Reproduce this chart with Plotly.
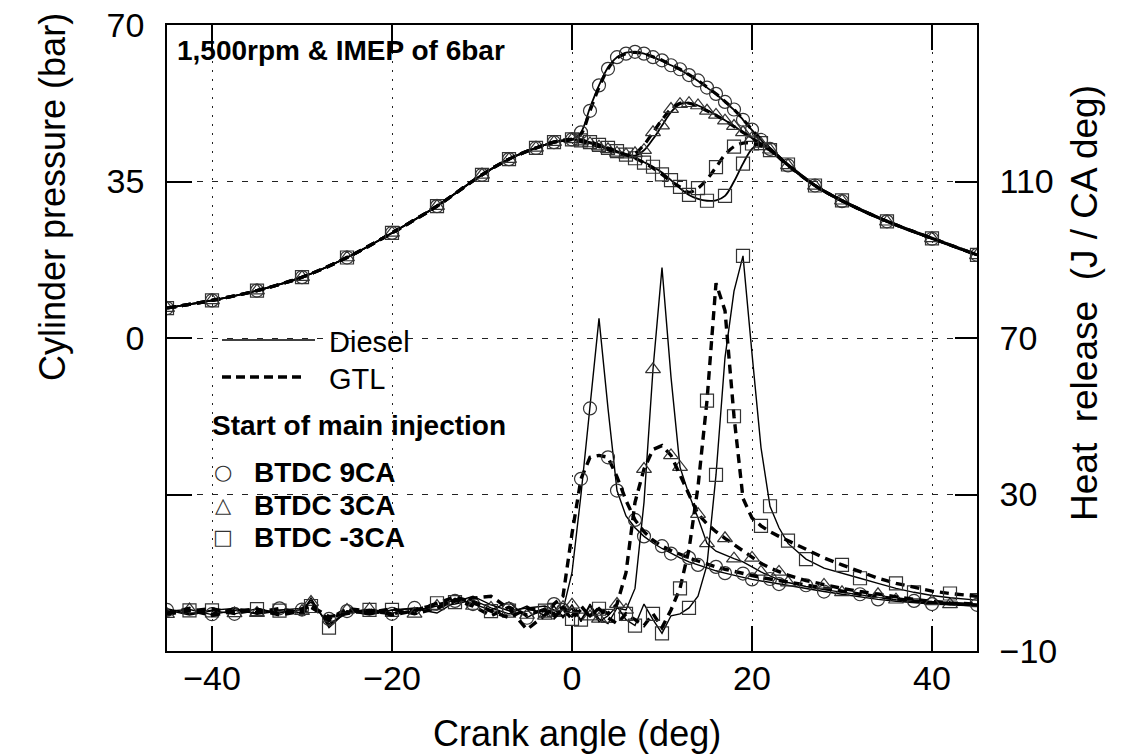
import plotly.graph_objects as go

# ---------------- data ----------------
# Cylinder pressure (bar), left axis
x_comp = [-45, -40, -35, -30, -25, -20, -15, -10, -7, -4, -2, 0]
p_comp = [6.7, 8.4, 10.6, 13.6, 18.0, 23.5, 29.5, 36.5, 40.0, 42.5, 43.8, 44.4]

x_exp = [1, 2, 3, 4, 5, 6, 7, 8, 9, 10, 11, 12, 13, 14, 15, 16, 17, 18, 19, 20, 21, 22,
         24, 27, 30, 35, 40, 45]
p_9ca_diesel = [46.0, 51.5, 56.5, 60.5, 62.8, 63.8, 64.0, 63.6, 62.8, 62.0, 61.0, 60.0, 58.8, 57.5,
                56.0, 54.5, 52.8, 51.0, 48.8, 46.5, 44.3, 42.2, 38.6, 34.0, 30.6, 26.0, 22.2, 18.5]
p_9ca_gtl = [45.6, 50.8, 56.0, 60.2, 62.6, 63.6, 63.9, 63.6, 62.9, 62.1, 61.1, 60.1, 58.9, 57.6,
             56.1, 54.6, 52.9, 51.1, 48.9, 46.6, 44.4, 42.3, 38.7, 34.1, 30.7, 26.1, 22.3, 18.6]
p_3ca_diesel = [43.9, 43.5, 42.9, 42.2, 41.5, 41.0, 40.8, 42.0, 44.5, 47.5, 50.5, 52.3, 52.6, 52.0,
                51.0, 49.9, 48.7, 47.4, 46.0, 44.7, 43.4, 42.1, 38.6, 34.0, 30.6, 26.0, 22.2, 18.5]
p_3ca_gtl = [43.9, 43.4, 42.8, 42.1, 41.4, 40.9, 41.3, 43.2, 46.0, 48.8, 51.2, 52.5, 52.5, 51.8,
             50.8, 49.8, 48.6, 47.3, 46.0, 44.7, 43.4, 42.1, 38.6, 34.1, 30.7, 26.1, 22.3, 18.6]
p_m3ca_diesel = [44.2, 43.8, 43.2, 42.5, 41.8, 41.0, 40.2, 39.3, 38.3, 37.0, 35.3, 33.5, 32.0, 31.1,
                 30.7, 30.8, 31.8, 35.0, 39.0, 42.3, 43.6, 42.5, 38.8, 34.2, 30.8, 26.2, 22.3, 18.6]
p_m3ca_gtl = [44.2, 43.8, 43.2, 42.5, 41.8, 41.0, 40.2, 39.2, 38.0, 36.6, 35.0, 33.8, 32.6, 33.5,
              35.5, 38.2, 41.0, 42.8, 43.6, 43.5, 43.0, 42.0, 38.7, 34.1, 30.7, 26.1, 22.3, 18.6]

# Heat release (J / CA deg), right axis
x_hr = [-45, -42.5, -40, -37.5, -35, -32.5, -30, -29, -27, -25,
        -22.5, -20, -17.5, -15, -13, -11, -9, -7, -5, -3,
        -2, -1, 0, 1, 2, 3, 4, 5, 6, 7,
        8, 9, 10, 11, 12, 13, 14, 15, 16, 17,
        18, 19, 20, 21, 22, 23, 24, 26, 28, 30,
        32, 34, 36, 38, 40, 42, 45]
hr_9ca_diesel = [0.5, -0.8, 0.3, -0.5, 0.8, -0.3, 0.6, 3.0, -3.5, 0.2,
                 -0.6, 0.4, 1.0, 0.5, 3.5, 2.0, 0.5, 2.5, -1.5, 1.0,
                 -1.2, 0.5, 10, 30, 52, 75, 52, 31, 24.5, 21.5,
                 19.3, 17.6, 16.2, 14.9, 13.8, 12.8, 12.0, 11.2, 10.5, 9.9,
                 9.3, 8.8, 8.3, 7.9, 7.5, 7.1, 6.7, 6.0, 5.2, 4.5,
                 3.8, 3.2, 2.7, 2.3, 2.0, 1.8, 1.5]
hr_9ca_gtl = [-0.4, 0.9, -0.6, 0.7, -0.2, 0.9, -0.5, 1.2, -1.8, 0.8,
              0.3, -0.5, 0.6, 1.8, 2.8, 3.5, 4.0, 0.8, -4.5, -0.8,
              2.0, 4.0, 20, 34, 39.5, 40, 39.5, 34.5, 28.5, 23.5,
              20.5, 18.3, 16.8, 15.7, 14.7, 13.8, 13.0, 12.2, 11.5, 10.9,
              10.3, 9.8, 9.3, 8.8, 8.4, 8.0, 7.6, 6.8, 6.0, 5.2,
              4.5, 3.9, 3.3, 2.8, 2.4, 2.1, 1.8]
hr_3ca_diesel = [0.2, 0.6, -0.7, 0.4, -0.3, 0.5, 0.9, 2.5, -3.0, -0.4,
                 0.7, -0.3, 0.2, 1.5, 2.0, 3.0, 1.0, -0.5, 1.5, -1.0,
                 1.5, -1.5, 1.8, -2.5, 2.0, -1.8, -3.0, 1.0, 0.5, 6,
                 28, 62, 88, 60, 37, 30, 24, 17.5, 15.5, 14.5,
                 13.6, 12.8, 11.5, 10.2, 9.2, 8.2, 7.5, 6.5, 5.7, 5.0,
                 4.3, 3.7, 3.1, 2.6, 2.2, 1.9, 1.5]
hr_3ca_gtl = [-0.6, 0.3, 0.8, -0.4, 0.6, -0.8, 0.2, 1.8, -2.2, 0.5,
              -0.2, 0.8, -0.5, 0.9, 3.0, 1.5, -1.0, 1.2, -0.8, 0.6,
              -0.5, 1.2, -1.0, 1.5, -1.2, 1.0, -0.5, 2, 10, 28,
              36.5, 41.5, 42.5, 40, 35, 30, 25, 22.5, 20.5, 18.8,
              17.2, 15.5, 13.8, 12.4, 11.2, 10.2, 9.4, 8.0, 6.9, 6.0,
              5.2, 4.5, 3.8, 3.2, 2.7, 2.3, 2.0]
hr_m3ca_diesel = [0.8, -0.5, 0.4, 0.9, -0.6, 0.3, -0.2, 3.5, -4.0, 0.3,
                  -0.8, 0.5, 0.8, -0.3, 2.5, 4.0, 1.8, 0.3, 1.0, 1.5,
                  0.5, -1.0, 0.8, -2.0, 1.5, -2.5, -1.0, 1.5, -2.0, -3.5,
                  2.0, -2.0, -5.5, -1.0, -0.5, 1.0, 4, 12, 35, 65,
                  82, 91, 66, 42, 27, 21.5, 17.5, 13.5, 11.2, 9.8,
                  8.6, 7.3, 6.0, 5.0, 4.2, 3.6, 3.0]
hr_m3ca_gtl = [-0.3, 0.4, -0.9, 0.2, 0.7, -0.6, 0.8, 1.5, -1.2, -0.5,
               0.5, -0.8, 0.3, 2.2, 3.8, 2.5, 0.2, -1.5, 0.8, 0.3,
               -1.5, 0.8, -1.8, 0.6, -1.0, 0.8, -1.5, -3.0, -0.5, -2.0,
               -3.5, -0.5, -4.0, 0.5, 6, 16, 32, 54, 84, 77,
               50, 29, 24, 22, 20.5, 19.3, 18.2, 16.2, 13.8, 12.0,
               10.2, 8.6, 7.3, 6.2, 5.3, 4.7, 4.0]

x_ticks = [-40, -20, 0, 20, 40]
yl_ticks = [-35, 0, 35, 70]
yl_text = ["", "0", "35", "70"]
yr_ticks = [-10, 30, 70, 110]

FONT = "Liberation Sans, Arial, sans-serif"
INK = "black"
MK = "#333333"

# the page's body margin is removed in post_script, so figure == window
W, H = 1129, 755
# plot-area geometry in window pixels
L, R, T, B = 167, 977, 25, 651

fig = go.Figure()


def add_series(x, y, axis, dash, width, symbol, offset, step, shape):
    fig.add_trace(go.Scatter(
        x=x, y=y, yaxis=axis, mode="lines", showlegend=False, hoverinfo="skip",
        line=dict(color=INK, width=width, dash=dash, shape=shape)))
    xs = [x[i] for i in range(len(x)) if i % step == offset]
    ys = [y[i] for i in range(len(y)) if i % step == offset]
    fig.add_trace(go.Scatter(
        x=xs, y=ys, yaxis=axis, mode="markers", showlegend=False, hoverinfo="skip",
        marker=dict(symbol=symbol, size=13, color=MK, line=dict(color=MK, width=1.2))))


SOLID = "solid"
DASH = "9px,6px"

x_p = x_comp + x_exp
pressure = [
    (p_comp + p_9ca_diesel, SOLID, 1.8, "circle-open", 0),
    (p_comp + p_3ca_diesel, SOLID, 1.8, "triangle-up-open", 1),
    (p_comp + p_m3ca_diesel, SOLID, 1.8, "square-open", 0),
    (p_comp + p_9ca_gtl, DASH, 3.2, "circle-open", 1),
    (p_comp + p_3ca_gtl, DASH, 3.2, "triangle-up-open", 0),
    (p_comp + p_m3ca_gtl, DASH, 3.2, "square-open", 1),
]
for y, dash, w, sym, off in pressure:
    add_series(x_p, y, "y", dash, w, sym, off, 2, "spline")

heat = [
    (hr_9ca_diesel, SOLID, 1.4, "circle-open", 0),
    (hr_3ca_diesel, SOLID, 1.4, "triangle-up-open", 1),
    (hr_m3ca_diesel, SOLID, 1.4, "square-open", 2),
    (hr_9ca_gtl, DASH, 3.4, "circle-open", 2),
    (hr_3ca_gtl, DASH, 3.4, "triangle-up-open", 0),
    (hr_m3ca_gtl, DASH, 3.4, "square-open", 1),
]
for y, dash, w, sym, off in heat:
    add_series(x_hr, y, "y2", dash, w, sym, off, 3, "linear")

fig.update_layout(
    width=W, height=H,
    margin=dict(l=L, r=W - R, t=T, b=H - B, autoexpand=False),
    paper_bgcolor="white", plot_bgcolor="white",
    font=dict(family=FONT, color=INK),
    xaxis=dict(
        range=[-45, 45], tickvals=x_ticks, ticks="inside", ticklen=25, tickwidth=1.5,
        tickcolor=INK, showline=True, linecolor=INK, linewidth=1.5, mirror="ticks",
        showgrid=True, gridcolor="#222222", gridwidth=1, griddash="2px,7px",
        zeroline=False, tickfont=dict(size=34, family=FONT), automargin=False,
        ticklabeloverflow="allow", ticklabelstandoff=-4,
    ),
    yaxis=dict(
        range=[-70, 70], tickvals=yl_ticks, ticktext=yl_text, ticks="inside", ticklen=25,
        tickwidth=1.5, tickcolor=INK, showline=True, linecolor=INK, linewidth=1.5,
        showgrid=True, gridcolor="#222222", gridwidth=1, griddash="6px,9px",
        zeroline=False, tickfont=dict(size=34, family=FONT), ticklabelstandoff=14,
        automargin=False, ticklabeloverflow="allow",
    ),
    yaxis2=dict(
        range=[-10, 150], tickvals=yr_ticks, overlaying="y", side="right", ticks="inside",
        ticklen=22, tickwidth=1.5, tickcolor=INK, showline=True, linecolor=INK, linewidth=1.5,
        showgrid=False, zeroline=False, tickfont=dict(size=34, family=FONT), ticklabelstandoff=14,
        automargin=False, ticklabeloverflow="allow",
    ),
)


def px_x(px):
    return (px - L) / float(R - L)


def px_y(py):
    return (B - py) / float(B - T)


# axis titles
fig.add_annotation(text="Crank angle (deg)", xref="paper", yref="paper",
                   x=px_x(577), y=px_y(733), xanchor="center", yanchor="middle",
                   showarrow=False, font=dict(size=36, family=FONT, color=INK))
fig.add_annotation(text="Cylinder pressure (bar)", xref="paper", yref="paper",
                   x=px_x(52), y=px_y(197), xanchor="center", yanchor="middle",
                   textangle=-90, showarrow=False, font=dict(size=36, family=FONT, color=INK))
fig.add_annotation(text="Heat&nbsp;&nbsp;release&nbsp;&nbsp;(J / CA deg)", xref="paper", yref="paper",
                   x=px_x(1084), y=px_y(303), xanchor="center", yanchor="middle",
                   textangle=-90, showarrow=False, font=dict(size=37, family=FONT, color=INK))

# ---------- in-plot legend and caption ----------
fig.add_shape(type="line", xref="paper", yref="paper", x0=px_x(222), x1=px_x(315),
              y0=px_y(340), y1=px_y(340), line=dict(color=INK, width=1.6))
fig.add_shape(type="line", xref="paper", yref="paper", x0=px_x(222), x1=px_x(303),
              y0=px_y(377), y1=px_y(377), line=dict(color=INK, width=3.4, dash="9px,5px"))

notes = [
    ("<b>1,500rpm & IMEP of 6bar</b>", 175, 50, 28),
    ("Diesel", 327, 342, 29),
    ("GTL", 327, 379, 29),
    ("<b>Start of main injection</b>", 210, 425, 28),
    ("<b>BTDC 9CA</b>", 252, 472, 28),
    ("<b>BTDC 3CA</b>", 252, 505, 28),
    ("<b>BTDC -3CA</b>", 252, 537, 28),
]
for text, x, y, size in notes:
    fig.add_annotation(text=text, xref="paper", yref="paper", x=px_x(x), y=px_y(y),
                       xanchor="left", yanchor="middle", showarrow=False,
                       font=dict(size=size, family=FONT, color=INK))

symbols = [("○", 472), ("△", 505), ("□", 537)]
for sym, y in symbols:
    fig.add_annotation(text=sym, xref="paper", yref="paper", x=px_x(223), y=px_y(y),
                       xanchor="center", yanchor="middle", showarrow=False,
                       font=dict(size=21, family="DejaVu Sans", color=MK))

fig.write_html("out.html", config={"displayModeBar": False},
               post_script="document.body.style.margin='0';document.body.style.overflow='hidden';")
